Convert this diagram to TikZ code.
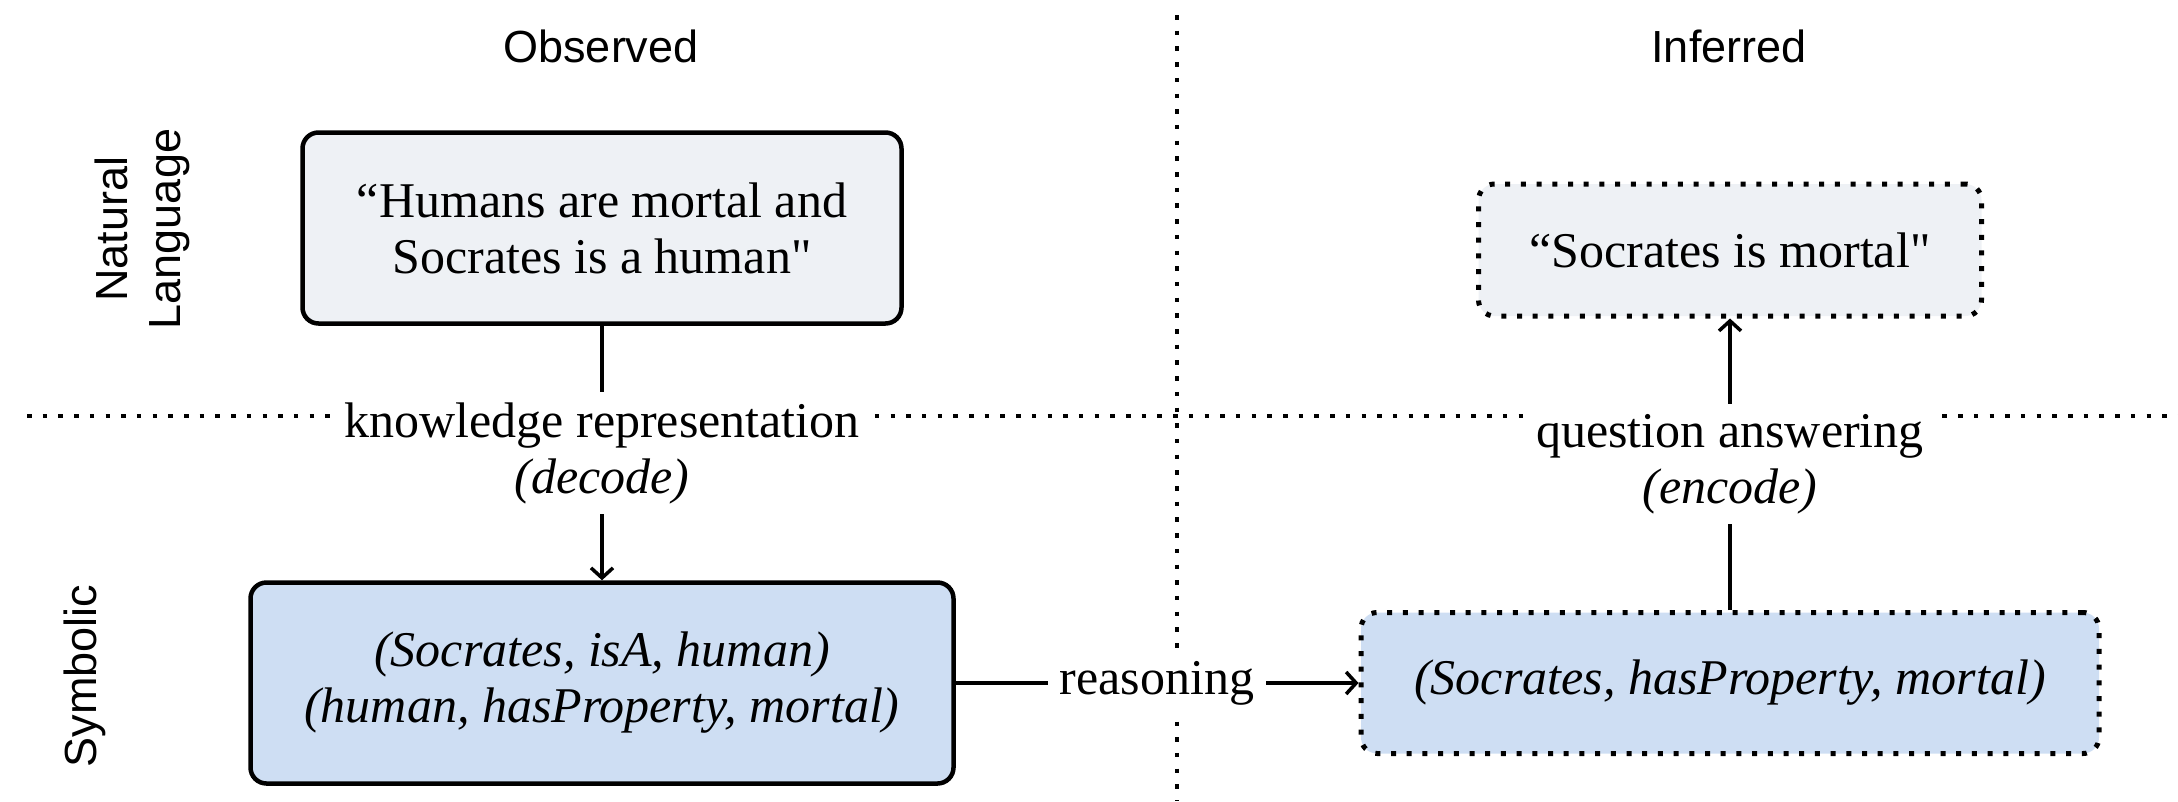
\documentclass[tikz,border=0pt]{standalone}
\usepackage{fontspec}
\setmainfont{Liberation Serif}[Ligatures=TeXOff]
\setsansfont{Liberation Sans}
\usetikzlibrary{arrows.meta}
\definecolor{nlfill}{RGB}{238,241,245}
\definecolor{symfill}{RGB}{206,222,243}
\tikzset{
  gridline/.style={line width=4.5pt, dash pattern=on 4.5pt off 11.2pt},
  cellbox/.style={draw, line width=4.5pt, rounded corners=16pt, align=center,
    inner sep=0pt, font=\fontsize{50}{56}\selectfont},
  guessbox/.style={cellbox, line width=5pt, dash pattern=on 5pt off 10.7pt},
  conn/.style={line width=3.5pt},
  arr/.style={conn, -{Straight Barb[length=10pt,width=22pt]}},
  lbl/.style={fill=white, align=center, inner xsep=12pt, inner ysep=10pt,
    font=\fontsize{50}{56}\selectfont},
  head/.style={font=\sffamily\fontsize{45}{53}\selectfont, align=center},
}
\begin{document}
\begin{tikzpicture}[x=1pt,y=-1pt]
\useasboundingbox (0,0) rectangle (2178,801);

% quadrant separators
\coordinate (hl) at (27,416);
\coordinate (hr) at (2178,416);
\coordinate (vt) at (1177,15);
\coordinate (vb) at (1177,801);
\draw[gridline] (hl) -- (hr);
\draw[gridline] (vt) -- (vb);

% column and row headings
\node[head] (obs) at (601,46) {Observed};
\node[head] (inf) at (1729,46) {Inferred};
\node[head, rotate=90] (nl) at (142,229) {Natural\\Language};
\node[head, rotate=90] (sym) at (85,676) {Symbolic};

% statements
\node[cellbox, fill=nlfill, minimum width=599pt, minimum height=191pt] (nlobs) at (602,228)
  {“Humans are mortal and\\Socrates is a human"};
\node[guessbox, fill=nlfill, minimum width=503pt, minimum height=132pt] (nlinf) at (1730,250)
  {“Socrates is mortal"};
\node[cellbox, fill=symfill, minimum width=703pt, minimum height=201pt,
  font=\fontsize{50}{56}\selectfont\itshape] (symobs) at (602,683)
  {(Socrates, isA, human)\\(human, hasProperty, mortal)};
\node[guessbox, fill=symfill, minimum width=738pt, minimum height=141pt,
  font=\fontsize{50}{56}\selectfont\itshape] (syminf) at (1730,683)
  {(Socrates, hasProperty, mortal)};

% transitions
\draw[arr] (nlobs) -- node[lbl] (kr) {knowledge representation\\\textit{(decode)}} (symobs);
\draw[arr] (syminf) -- node[lbl] (qa) {question answering\\\textit{(encode)}} (nlinf);
\draw[arr] (symobs) -- node[lbl] (rs) {reasoning} (syminf);
\end{tikzpicture}
\end{document}
